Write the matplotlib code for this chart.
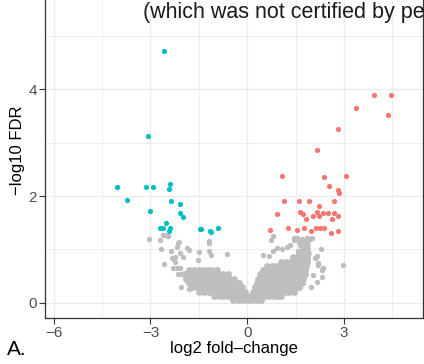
import numpy as np
import matplotlib
matplotlib.use("Agg")
import matplotlib.pyplot as plt

plt.rcParams['font.family'] = ['Liberation Sans', 'DejaVu Sans']

#------------Significant genes---------------------------------------#
down_x = [-2.59, -3.09, -4.03, -3.15, -2.92, -2.39, -2.42, -3.74, -2.35, -2.08,
          -3.03, -2.08, -1.99, -2.51, -2.71, -2.61, -2.38, -2.43, -1.47, -1.42,
          -1.16, -1.11, -0.90]
down_y = [4.72, 3.13, 2.16, 2.16, 2.16, 2.23, 2.13, 1.93, 1.90, 1.85,
          1.71, 1.68, 1.61, 1.49, 1.40, 1.40, 1.40, 1.35, 1.39, 1.39,
          1.35, 1.33, 1.40]

up_x = [3.93, 4.45, 3.37, 4.36, 2.82, 2.17, 1.09, 2.38, 3.07, 2.53,
        2.80, 2.84, 1.14, 1.61, 1.92, 2.24, 2.69, 0.93, 1.64, 1.72,
        2.17, 2.35, 2.52, 2.70, 2.80, 2.05, 2.24, 1.81, 2.64, 0.71,
        1.27, 1.54, 1.75, 1.98, 2.13, 2.26, 2.38, 2.59, 2.80]
up_y = [3.90, 3.90, 3.65, 3.51, 3.25, 2.87, 2.38, 2.36, 2.38, 2.18,
        2.11, 2.06, 1.90, 1.90, 1.90, 1.82, 1.90, 1.67, 1.70, 1.66,
        1.70, 1.68, 1.68, 1.68, 1.63, 1.63, 1.63, 1.57, 1.57, 1.37,
        1.40, 1.37, 1.40, 1.35, 1.40, 1.40, 1.40, 1.30, 1.35]

#------------Non significant genes: dense core, row by row----------------#
core_rows = {
    0.06: [-0.02, -0.16, -0.30, -0.44, 0.02, 0.16, 0.30, 0.44],
    0.13: [-0.05, -0.19, -0.33, -0.47, -0.61, -0.75, -0.89, -1.03,
           0.12, 0.26, 0.40, 0.54, 0.68, 0.82, 0.96, 1.05],
    0.21: [-0.08, -0.22, -0.36, -0.50, -0.64, -0.78, -0.92, -1.06, -1.20, -1.34, -1.48,
           0.18, 0.32, 0.46, 0.60, 0.74, 0.88, 1.02, 1.16, 1.30, 1.44],
    0.29: [-0.15, -0.29, -0.43, -0.57, -0.71, -0.85, -0.99, -1.13, -1.27, -1.41, -1.55, -1.69,
           0.24, 0.38, 0.52, 0.66, 0.80, 0.94, 1.08, 1.22, 1.36, 1.50, 1.62],
    0.37: [-0.25, -0.39, -0.53, -0.67, -0.81, -0.95, -1.09, -1.23, -1.37, -1.51, -1.65, -1.79,
           0.30, 0.44, 0.58, 0.72, 0.86, 1.00, 1.14, 1.28, 1.42, 1.56, 1.70],
    0.45: [-0.40, -0.54, -0.68, -0.82, -0.96, -1.10, -1.24, -1.38, -1.52, -1.66, -1.80, -1.90,
           0.34, 0.48, 0.62, 0.76, 0.90, 1.04, 1.18, 1.32, 1.46, 1.60, 1.74],
    0.53: [-0.60, -0.74, -0.88, -1.02, -1.16, -1.30, -1.44, -1.58, -1.72, -1.86, -1.95,
           0.40, 0.54, 0.68, 0.82, 0.96, 1.10, 1.24, 1.38, 1.52, 1.66, 1.78],
    0.61: [-0.95, -1.09, -1.23, -1.37, -1.51, -1.65, -1.79,
           0.48, 0.62, 0.76, 0.90, 1.04, 1.18, 1.32, 1.46, 1.60, 1.74, 1.80],
    0.69: [0.62, 0.76, 0.90, 1.04, 1.18, 1.32, 1.46, 1.60, 1.74, 1.82],
    0.77: [1.05, 1.19, 1.33, 1.47, 1.61, 1.75, 1.85],
    0.85: [1.42, 1.56, 1.70, 1.84],
    0.93: [1.62, 1.76, 1.88],
    1.01: [1.72, 1.86],
    1.09: [1.85],
}

#------------Non significant genes: scattered ones----------------#
ns_x = [-3.04, -2.69, -2.61, -2.56, -2.45, -2.68, -2.37, -2.19, -2.11, -2.25,
        -2.09, -1.98, -1.88, -1.80, -2.57, -2.30, -2.19, -2.09, -2.16, -2.06,
        -2.04, -1.80, -1.49, -1.52, -1.18, -1.19, -1.20, -1.13, -0.62, -1.80,
        -2.14, -2.33, -2.23,
        0.49, 0.69, 0.74, 0.79, 1.46, 1.53, 1.86, 1.95, 2.00, 2.29,
        2.16, 2.10, 2.20, 2.36, 2.98, 2.33, 1.97, 0.81, 0.93, 1.09,
        1.22, 1.33, 1.45, 1.64, 1.74, 1.58, 1.89, 1.79, 2.05, 2.16,
        2.32, 2.19, 1.62, 1.70, 1.85, 1.80]
ns_y = [1.20, 1.18, 1.26, 1.27, 1.25, 1.00, 0.97, 1.04, 1.13, 0.86,
        0.94, 0.86, 1.02, 0.98, 0.73, 0.65, 0.65, 0.65, 0.54, 0.54,
        0.30, 0.39, 0.95, 0.80, 1.11, 1.16, 0.96, 0.89, 0.91, 0.25,
        1.11, 0.83, 0.76,
        0.89, 0.88, 1.18, 1.25, 1.22, 1.21, 1.16, 1.20, 1.21, 1.00,
        0.88, 0.83, 0.75, 0.65, 0.71, 0.48, 0.30, 0.96, 1.02, 1.01,
        1.05, 1.08, 1.18, 1.08, 1.11, 0.96, 0.83, 1.02, 0.52, 0.39,
        0.61, 0.71, 1.14, 1.19, 1.21, 1.11]

core_x = []
core_y = []
for yy, xs in core_rows.items():
    core_x += xs
    core_y += [yy] * len(xs)

x_ticks = [-6, -3, 0, 3]
y_ticks = [0, 2, 4]

#----------------Plotter-----------------#
fig = plt.figure(figsize=(4.24, 3.64), dpi=100)
ax = fig.add_axes([0.1073, 0.1272, 0.8903, 0.8728])

ax.scatter(core_x, core_y, s=24, color='#BEBEBE', linewidths=0, zorder=3)
ax.scatter(ns_x, ns_y, s=15, color='#BEBEBE', linewidths=0, zorder=3)
ax.scatter(down_x, down_y, s=14, color='#00BFC4', linewidths=0, zorder=4)
ax.scatter(up_x, up_y, s=14, color='#F8766D', linewidths=0, zorder=4)

ax.set_xlim(-6.255, 5.45)
ax.set_ylim(-0.281, 5.674)
ax.set_xticks(x_ticks)
ax.set_yticks(y_ticks)
ax.set_xticks([-4.5, -1.5, 1.5, 4.5], minor=True)
ax.set_yticks([1, 3, 5], minor=True)
ax.grid(which='major', color='#EBEBEB', lw=1.0, zorder=0)
ax.grid(which='minor', color='#EBEBEB', lw=0.6, zorder=0)
ax.set_axisbelow(True)

ax.tick_params(which='major', length=4, width=0.8, color='#333333',
               labelsize=11, labelcolor='#4D4D4D', pad=2)
ax.tick_params(which='minor', length=0)
ax.spines['top'].set_visible(False)
for s in ['left', 'bottom', 'right']:
    ax.spines[s].set_color('#333333')
    ax.spines[s].set_linewidth(0.9)

ax.set_xlabel('log2 fold\u2013change', fontsize=12, labelpad=1)
fig.text(0.042, 1 - 150 / 364, '\u2212log10 FDR', rotation=90, fontsize=12,
         ha='center', va='center')

fig.text(7 / 424, 1 - 355 / 364, 'A.', fontsize=15, ha='left', va='baseline')
# preprint header, cut by the right edge as in the original crop
fig.text(143 / 424, 1 - 18.3 / 364, '(which was not certified by peer review)',
         fontsize=15.5, ha='left', va='baseline', color='#1A1A1A')

fig.savefig('out.png', dpi=100)
